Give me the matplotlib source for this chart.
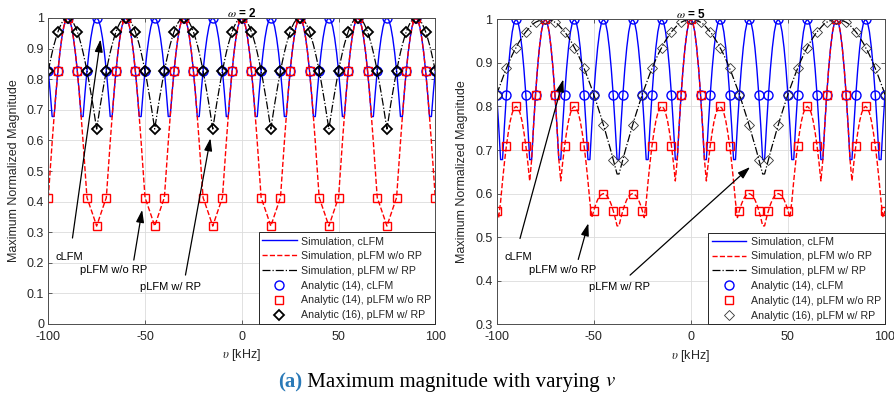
import matplotlib
matplotlib.use("Agg")
import matplotlib.pyplot as plt
from matplotlib.lines import Line2D
import numpy as np

plt.rcParams["font.family"] = ["Liberation Sans", "DejaVu Sans"]
plt.rcParams["mathtext.fontset"] = "stix"
plt.rcParams["axes.unicode_minus"] = False

# Doppler shift grid (kHz): simulation every 1 kHz, analytic every 5 kHz
NU_SIM = np.arange(-100, 101)
NU_AN = np.arange(-100, 101, 5)

# ---- simulation curves -------------------------------------------------
# cLFM does not depend on omega: same curve in both panels
SIM_CLFM = [
    0.827, 0.757, 0.678, 0.678, 0.757, 0.827, 0.887, 0.935, 0.971, 0.993, 1.000,
    0.993, 0.971, 0.935, 0.887, 0.827, 0.757, 0.678, 0.678, 0.757, 0.827, 0.887, 0.935, 0.971, 0.993, 1.000,
    0.993, 0.971, 0.935, 0.887, 0.827, 0.757, 0.678, 0.678, 0.757, 0.827, 0.887, 0.935, 0.971, 0.993, 1.000,
    0.993, 0.971, 0.935, 0.887, 0.827, 0.757, 0.678, 0.678, 0.757, 0.827, 0.887, 0.935, 0.971, 0.993, 1.000,
    0.993, 0.971, 0.935, 0.887, 0.827, 0.757, 0.678, 0.678, 0.757, 0.827, 0.887, 0.935, 0.971, 0.993, 1.000,
    0.993, 0.971, 0.935, 0.887, 0.827, 0.757, 0.678, 0.678, 0.757, 0.827, 0.887, 0.935, 0.971, 0.993, 1.000,
    0.993, 0.971, 0.935, 0.887, 0.827, 0.757, 0.678, 0.678, 0.757, 0.827, 0.887, 0.935, 0.971, 0.993, 1.000,
    0.993, 0.971, 0.935, 0.887, 0.827, 0.757, 0.678, 0.678, 0.757, 0.827, 0.887, 0.935, 0.971, 0.993, 1.000,
    0.993, 0.971, 0.935, 0.887, 0.827, 0.757, 0.678, 0.678, 0.757, 0.827, 0.887, 0.935, 0.971, 0.993, 1.000,
    0.993, 0.971, 0.935, 0.887, 0.827, 0.757, 0.678, 0.678, 0.757, 0.827, 0.887, 0.935, 0.971, 0.993, 1.000,
    0.993, 0.971, 0.935, 0.887, 0.827, 0.757, 0.678, 0.678, 0.757, 0.827, 0.887, 0.935, 0.971, 0.993, 1.000,
    0.993, 0.971, 0.935, 0.887, 0.827, 0.757, 0.678, 0.678, 0.757, 0.827, 0.887, 0.935, 0.971, 0.993, 1.000,
    0.993, 0.971, 0.935, 0.887, 0.827, 0.757, 0.678, 0.678, 0.757, 0.827, 0.887, 0.935, 0.971, 0.993, 1.000,
    0.993, 0.971, 0.935, 0.887, 0.827, 0.757, 0.678, 0.678, 0.757, 0.827,
]

# omega = 2
SIM_NORP_W2 = [
    0.413, 0.505, 0.594, 0.678, 0.757, 0.827, 0.887, 0.935, 0.971, 0.993, 1.000,
    0.993, 0.971, 0.935, 0.887, 0.827, 0.757, 0.678, 0.594, 0.505, 0.413, 0.395, 0.376, 0.358, 0.339, 0.320,
    0.339, 0.358, 0.376, 0.395, 0.413, 0.505, 0.594, 0.678, 0.757, 0.827, 0.887, 0.935, 0.971, 0.993, 1.000,
    0.993, 0.971, 0.935, 0.887, 0.827, 0.757, 0.678, 0.594, 0.505, 0.413, 0.395, 0.376, 0.358, 0.339, 0.320,
    0.339, 0.358, 0.376, 0.395, 0.413, 0.505, 0.594, 0.678, 0.757, 0.827, 0.887, 0.935, 0.971, 0.993, 1.000,
    0.993, 0.971, 0.935, 0.887, 0.827, 0.757, 0.678, 0.594, 0.505, 0.413, 0.395, 0.376, 0.358, 0.339, 0.320,
    0.339, 0.358, 0.376, 0.395, 0.413, 0.505, 0.594, 0.678, 0.757, 0.827, 0.887, 0.935, 0.971, 0.993, 1.000,
    0.993, 0.971, 0.935, 0.887, 0.827, 0.757, 0.678, 0.594, 0.505, 0.413, 0.395, 0.376, 0.358, 0.339, 0.320,
    0.339, 0.358, 0.376, 0.395, 0.413, 0.505, 0.594, 0.678, 0.757, 0.827, 0.887, 0.935, 0.971, 0.993, 1.000,
    0.993, 0.971, 0.935, 0.887, 0.827, 0.757, 0.678, 0.594, 0.505, 0.413, 0.395, 0.376, 0.358, 0.339, 0.320,
    0.339, 0.358, 0.376, 0.395, 0.413, 0.505, 0.594, 0.678, 0.757, 0.827, 0.887, 0.935, 0.971, 0.993, 1.000,
    0.993, 0.971, 0.935, 0.887, 0.827, 0.757, 0.678, 0.594, 0.505, 0.413, 0.395, 0.376, 0.358, 0.339, 0.320,
    0.339, 0.358, 0.376, 0.395, 0.413, 0.505, 0.594, 0.678, 0.757, 0.827, 0.887, 0.935, 0.971, 0.993, 1.000,
    0.993, 0.971, 0.935, 0.887, 0.827, 0.757, 0.678, 0.594, 0.505, 0.413,
]

SIM_RP_W2 = [
    0.827, 0.858, 0.887, 0.913, 0.935, 0.955, 0.971, 0.984, 0.993, 0.998, 1.000,
    0.998, 0.993, 0.984, 0.971, 0.955, 0.935, 0.913, 0.887, 0.858, 0.827, 0.793, 0.757, 0.719, 0.678, 0.637,
    0.678, 0.719, 0.757, 0.793, 0.827, 0.858, 0.887, 0.913, 0.935, 0.955, 0.971, 0.984, 0.993, 0.998, 1.000,
    0.998, 0.993, 0.984, 0.971, 0.955, 0.935, 0.913, 0.887, 0.858, 0.827, 0.793, 0.757, 0.719, 0.678, 0.637,
    0.678, 0.719, 0.757, 0.793, 0.827, 0.858, 0.887, 0.913, 0.935, 0.955, 0.971, 0.984, 0.993, 0.998, 1.000,
    0.998, 0.993, 0.984, 0.971, 0.955, 0.935, 0.913, 0.887, 0.858, 0.827, 0.793, 0.757, 0.719, 0.678, 0.637,
    0.678, 0.719, 0.757, 0.793, 0.827, 0.858, 0.887, 0.913, 0.935, 0.955, 0.971, 0.984, 0.993, 0.998, 1.000,
    0.998, 0.993, 0.984, 0.971, 0.955, 0.935, 0.913, 0.887, 0.858, 0.827, 0.793, 0.757, 0.719, 0.678, 0.637,
    0.678, 0.719, 0.757, 0.793, 0.827, 0.858, 0.887, 0.913, 0.935, 0.955, 0.971, 0.984, 0.993, 0.998, 1.000,
    0.998, 0.993, 0.984, 0.971, 0.955, 0.935, 0.913, 0.887, 0.858, 0.827, 0.793, 0.757, 0.719, 0.678, 0.637,
    0.678, 0.719, 0.757, 0.793, 0.827, 0.858, 0.887, 0.913, 0.935, 0.955, 0.971, 0.984, 0.993, 0.998, 1.000,
    0.998, 0.993, 0.984, 0.971, 0.955, 0.935, 0.913, 0.887, 0.858, 0.827, 0.793, 0.757, 0.719, 0.678, 0.637,
    0.678, 0.719, 0.757, 0.793, 0.827, 0.858, 0.887, 0.913, 0.935, 0.955, 0.971, 0.984, 0.993, 0.998, 1.000,
    0.998, 0.993, 0.984, 0.971, 0.955, 0.935, 0.913, 0.887, 0.858, 0.827,
]

# omega = 5
SIM_NORP_W5 = [
    0.561, 0.545, 0.581, 0.629, 0.672, 0.710, 0.741, 0.767, 0.785, 0.796, 0.800,
    0.796, 0.785, 0.767, 0.741, 0.710, 0.672, 0.629, 0.678, 0.757, 0.827, 0.887, 0.935, 0.971, 0.993, 1.000,
    0.993, 0.971, 0.935, 0.887, 0.827, 0.757, 0.678, 0.629, 0.672, 0.710, 0.741, 0.767, 0.785, 0.796, 0.800,
    0.796, 0.785, 0.767, 0.741, 0.710, 0.672, 0.629, 0.581, 0.545, 0.561, 0.575, 0.586, 0.594, 0.598, 0.600,
    0.598, 0.594, 0.586, 0.575, 0.561, 0.545, 0.526, 0.526, 0.545, 0.561, 0.575, 0.586, 0.594, 0.598, 0.600,
    0.598, 0.594, 0.586, 0.575, 0.561, 0.545, 0.581, 0.629, 0.672, 0.710, 0.741, 0.767, 0.785, 0.796, 0.800,
    0.796, 0.785, 0.767, 0.741, 0.710, 0.672, 0.629, 0.678, 0.757, 0.827, 0.887, 0.935, 0.971, 0.993, 1.000,
    0.993, 0.971, 0.935, 0.887, 0.827, 0.757, 0.678, 0.629, 0.672, 0.710, 0.741, 0.767, 0.785, 0.796, 0.800,
    0.796, 0.785, 0.767, 0.741, 0.710, 0.672, 0.629, 0.581, 0.545, 0.561, 0.575, 0.586, 0.594, 0.598, 0.600,
    0.598, 0.594, 0.586, 0.575, 0.561, 0.545, 0.526, 0.526, 0.545, 0.561, 0.575, 0.586, 0.594, 0.598, 0.600,
    0.598, 0.594, 0.586, 0.575, 0.561, 0.545, 0.581, 0.629, 0.672, 0.710, 0.741, 0.767, 0.785, 0.796, 0.800,
    0.796, 0.785, 0.767, 0.741, 0.710, 0.672, 0.629, 0.678, 0.757, 0.827, 0.887, 0.935, 0.971, 0.993, 1.000,
    0.993, 0.971, 0.935, 0.887, 0.827, 0.757, 0.678, 0.629, 0.672, 0.710, 0.741, 0.767, 0.785, 0.796, 0.800,
    0.796, 0.785, 0.767, 0.741, 0.710, 0.672, 0.629, 0.581, 0.545, 0.561,
]

SIM_RP_W5 = [
    0.827, 0.840, 0.852, 0.864, 0.876, 0.887, 0.898, 0.908, 0.918, 0.927, 0.935, 0.944, 0.951,
    0.958, 0.965, 0.971, 0.976, 0.981, 0.986, 0.990, 0.993, 0.995, 0.997, 0.999, 1.000, 1.000,
    1.000, 0.999, 0.997, 0.995, 0.993, 0.990, 0.986, 0.981, 0.976, 0.971, 0.965, 0.958, 0.951,
    0.944, 0.935, 0.927, 0.918, 0.908, 0.898, 0.887, 0.876, 0.864, 0.852, 0.840, 0.827, 0.814,
    0.800, 0.786, 0.772, 0.757, 0.742, 0.726, 0.711, 0.695, 0.678, 0.662, 0.645,
    0.645, 0.662, 0.678, 0.695, 0.711, 0.726, 0.742, 0.757, 0.772, 0.786, 0.800, 0.814, 0.827,
    0.840, 0.852, 0.864, 0.876, 0.887, 0.898, 0.908, 0.918, 0.927, 0.935, 0.944, 0.951, 0.958,
    0.965, 0.971, 0.976, 0.981, 0.986, 0.990, 0.993, 0.995, 0.997, 0.999, 1.000, 1.000,
    1.000, 0.999, 0.997, 0.995, 0.993, 0.990, 0.986, 0.981, 0.976, 0.971, 0.965, 0.958, 0.951,
    0.944, 0.935, 0.927, 0.918, 0.908, 0.898, 0.887, 0.876, 0.864, 0.852, 0.840, 0.827, 0.814,
    0.800, 0.786, 0.772, 0.757, 0.742, 0.726, 0.711, 0.695, 0.678, 0.662, 0.645,
    0.645, 0.662, 0.678, 0.695, 0.711, 0.726, 0.742, 0.757, 0.772, 0.786, 0.800, 0.814, 0.827,
    0.840, 0.852, 0.864, 0.876, 0.887, 0.898, 0.908, 0.918, 0.927, 0.935, 0.944, 0.951, 0.958,
    0.965, 0.971, 0.976, 0.981, 0.986, 0.990, 0.993, 0.995, 0.997, 0.999, 1.000, 1.000,
    1.000, 0.999, 0.997, 0.995, 0.993, 0.990, 0.986, 0.981, 0.976, 0.971, 0.965, 0.958, 0.951,
    0.944, 0.935, 0.927, 0.918, 0.908, 0.898, 0.887, 0.876, 0.864, 0.852, 0.840, 0.827,
]

# ---- analytic values, every 5 kHz -------------------------------------
AN_CLFM = [
    0.827, 0.827, 1.0, 0.827, 0.827, 1.0, 0.827, 0.827, 1.0, 0.827, 0.827, 1.0, 0.827, 0.827,
    1.0, 0.827, 0.827, 1.0, 0.827, 0.827, 1.0, 0.827, 0.827, 1.0, 0.827, 0.827, 1.0, 0.827,
    0.827, 1.0, 0.827, 0.827, 1.0, 0.827, 0.827, 1.0, 0.827, 0.827, 1.0, 0.827, 0.827,
]
AN_NORP_W2 = [
    0.413, 0.827, 1.0, 0.827, 0.413, 0.320, 0.413, 0.827, 1.0, 0.827, 0.413, 0.320, 0.413, 0.827,
    1.0, 0.827, 0.413, 0.320, 0.413, 0.827, 1.0, 0.827, 0.413, 0.320, 0.413, 0.827, 1.0, 0.827,
    0.413, 0.320, 0.413, 0.827, 1.0, 0.827, 0.413, 0.320, 0.413, 0.827, 1.0, 0.827, 0.413,
]
AN_RP_W2 = [
    0.827, 0.955, 1.0, 0.955, 0.827, 0.637, 0.827, 0.955, 1.0, 0.955, 0.827, 0.637, 0.827, 0.955,
    1.0, 0.955, 0.827, 0.637, 0.827, 0.955, 1.0, 0.955, 0.827, 0.637, 0.827, 0.955, 1.0, 0.955,
    0.827, 0.637, 0.827, 0.955, 1.0, 0.955, 0.827, 0.637, 0.827, 0.955, 1.0, 0.955, 0.827,
]
AN_NORP_W5 = [
    0.561, 0.710, 0.800, 0.710, 0.827, 1.0, 0.827, 0.710, 0.800, 0.710, 0.561, 0.600, 0.561, 0.561,
    0.600, 0.561, 0.710, 0.800, 0.710, 0.827, 1.0, 0.827, 0.710, 0.800, 0.710, 0.561, 0.600, 0.561,
    0.561, 0.600, 0.561, 0.710, 0.800, 0.710, 0.827, 1.0, 0.827, 0.710, 0.800, 0.710, 0.561,
]
AN_RP_W5 = [
    0.827, 0.887, 0.935, 0.971, 0.993, 1.0, 0.993, 0.971, 0.935, 0.887, 0.827, 0.757, 0.678, 0.678,
    0.757, 0.827, 0.887, 0.935, 0.971, 0.993, 1.0, 0.993, 0.971, 0.935, 0.887, 0.827, 0.757, 0.678,
    0.678, 0.757, 0.827, 0.887, 0.935, 0.971, 0.993, 1.0, 0.993, 0.971, 0.935, 0.887, 0.827,
]

LABELS = [
    "Simulation, cLFM",
    "Simulation, pLFM w/o RP",
    "Simulation, pLFM w/ RP",
    "Analytic (14), cLFM",
    "Analytic (14), pLFM w/o RP",
    "Analytic (16), pLFM w/ RP",
]

TXT = "#262626"


def panel(ax, omega, norp, rp, an_norp, an_rp, ylo, notes, dia_lw, dia_col):
    ax.plot(NU_SIM, SIM_CLFM, "-", color="#0000ff", lw=1.0)
    ax.plot(NU_SIM, norp, "--", color="#ff0000", lw=1.0)
    ax.plot(NU_SIM, rp, "-.", color="black", lw=0.9)
    ax.plot(NU_AN, AN_CLFM, "o", ms=6.5, mfc="none", mec="#0000ff", mew=1.0)
    ax.plot(NU_AN, an_norp, "s", ms=5.5, mfc="none", mec="#ff0000", mew=1.0)
    ax.plot(NU_AN, an_rp, "D", ms=5.2, mfc="none", mec=dia_col, mew=dia_lw)

    ax.set_xlim(-100, 100)
    ax.set_ylim(ylo, 1)
    ax.set_xticks([-100, -50, 0, 50, 100])
    ax.set_yticks(np.round(np.arange(ylo, 1.0001, 0.1), 1))
    ax.yaxis.set_major_formatter(plt.FormatStrFormatter("%g"))
    ax.grid(True, color="#dcdcdc", lw=0.6)
    ax.set_axisbelow(True)
    ax.tick_params(direction="in", length=3, width=0.5, labelsize=9,
                   colors=TXT, top=True, right=True)
    ax.tick_params(axis="x", pad=5)
    ax.tick_params(axis="y", pad=3)
    for sp in ax.spines.values():
        sp.set_color("#4d4d4d")
        sp.set_linewidth(0.7)

    ax.set_title(r"$\omega$ = %d" % omega, fontsize=8.5, fontweight="bold",
                 pad=1, color="black")
    ax.set_ylabel("Maximum Normalized Magnitude", fontsize=9, color=TXT, labelpad=5)
    ax.set_xlabel(r"$\upsilon$ [kHz]", fontsize=9, color=TXT, labelpad=3)

    # labelled arrows: (text, text position, arrow tail, arrow head)
    for label, txy, tail, head in notes:
        ax.text(*txy, label, fontsize=8, ha="center", va="center", color="black")
        ax.annotate("", xy=head, xytext=tail,
                    arrowprops=dict(arrowstyle="-|>,head_length=0.75,head_width=0.24",
                                    color="black", lw=0.9, shrinkA=0, shrinkB=0))

    handles = [
        Line2D([], [], ls="-", color="#0000ff", lw=1.0),
        Line2D([], [], ls="--", color="#ff0000", lw=1.0),
        Line2D([], [], ls="-.", color="black", lw=0.9),
        Line2D([], [], ls="none", marker="o", ms=6.5, mfc="none", mec="#0000ff", mew=1.0),
        Line2D([], [], ls="none", marker="s", ms=5.5, mfc="none", mec="#ff0000", mew=1.0),
        Line2D([], [], ls="none", marker="D", ms=5.2, mfc="none", mec=dia_col, mew=dia_lw),
    ]
    leg = ax.legend(handles, LABELS, loc="lower right", fontsize=7.7,
                    borderaxespad=0, fancybox=False, framealpha=1,
                    edgecolor="#262626", handlelength=3.2, handletextpad=0.45,
                    labelspacing=0.45, borderpad=0.35)
    leg.get_frame().set_linewidth(0.7)
    for t in leg.get_texts():
        t.set_color(TXT)


fig = plt.figure(figsize=(8.94, 4.0), dpi=100)
fig.patch.set_facecolor("white")

ax1 = fig.add_axes([0.0540, 0.190, 0.4329, 0.765])
ax2 = fig.add_axes([0.5556, 0.189, 0.4343, 0.763])

panel(ax1, 2, SIM_NORP_W2, SIM_RP_W2, AN_NORP_W2, AN_RP_W2, 0.0,
      [("cLFM", (-89.0, 0.219), (-87.5, 0.281), (-73.0, 0.93)),
       ("pLFM w/o RP", (-66.3, 0.176), (-55.8, 0.209), (-51.5, 0.373)),
       ("pLFM w/ RP", (-36.8, 0.121), (-29.1, 0.160), (-16.2, 0.607))],
      dia_lw=1.3, dia_col="black")

panel(ax2, 5, SIM_NORP_W5, SIM_RP_W5, AN_NORP_W5, AN_RP_W5, 0.3,
      [("cLFM", (-89.0, 0.454), (-88.0, 0.497), (-65.7, 0.862)),
       ("pLFM w/o RP", (-66.1, 0.424), (-58.0, 0.449), (-52.8, 0.532)),
       ("pLFM w/ RP", (-36.5, 0.386), (-31.3, 0.413), (30.5, 0.661))],
      dia_lw=0.6, dia_col="#333333")

# sub-caption, centred under both panels
renderer = fig.canvas.get_renderer()
parts = [
    ("(a)", dict(fontweight="bold", color="#2a7ab8")),
    (" Maximum magnitude with varying", dict(color="black")),
    (r" $v$", dict(color="black")),
]
cap_y = 0.045
texts = [fig.text(0, cap_y, s, fontsize=15, family="Liberation Serif",
                  va="center", ha="left", **kw) for s, kw in parts]
widths = [t.get_window_extent(renderer).width for t in texts]
x = (fig.bbox.width - sum(widths)) / 2
for t, w in zip(texts, widths):
    t.set_x(x / fig.bbox.width)
    x += w

fig.savefig("out.png", dpi=100, facecolor="white")
